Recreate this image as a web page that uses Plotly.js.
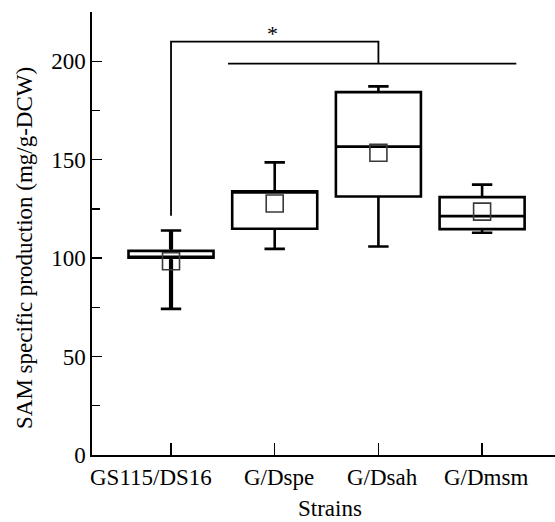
<!DOCTYPE html>
<html><head><meta charset="utf-8">
<script src="https://cdn.plot.ly/plotly-3.0.1.min.js"></script>
<style>html,body{margin:0;padding:0;background:#fff}#c{width:555px;height:522px}</style>
</head><body><div id="c"></div>
<script>
const categories = ["GS115/DS16", "G/Dspe", "G/Dsah", "G/Dmsm"];
const positions = [0, 1, 2, 3];
const lowerWhisker = [74.2, 104.7, 105.9, 112.9];
const q1 = [100.2, 114.9, 131.3, 114.7];
const medians = [100.2, 133.3, 156.6, 121.3];
const q3 = [103.7, 133.9, 184.3, 131.0];
const upperWhisker = [114.0, 148.6, 187.2, 137.3];
const means = [98.4, 127.7, 153.5, 123.6];
const bracketX = [0, 0, 2, 2];
const bracketY = [121.5, 210, 210, 198.8];
const groupLineX = [0.55, 3.33];
const groupLineY = [198.8, 198.8];
const yTicks = [0, 50, 100, 150, 200];
const xTitle = "Strains";
const yTitle = "SAM specific production (mg/g-DCW)";
const sigMark = "*";

const font = "Liberation Serif, Times New Roman, serif";
const FS = 23;
const traces = [
  {type: "box", x: positions, q1: q1, median: medians, q3: q3,
   lowerfence: lowerWhisker, upperfence: upperWhisker,
   width: 0.82, whiskerwidth: 0.24, fillcolor: "rgba(0,0,0,0)",
   line: {color: "#000", width: 2.6}, boxpoints: false, hoverinfo: "skip"},
  // heavier whisker stems of the first strain
  {type: "scatter", mode: "lines",
   x: [positions[0], positions[0], null, positions[0], positions[0]],
   y: [lowerWhisker[0], q1[0] - 0.8, null, q3[0] + 0.8, upperWhisker[0]],
   line: {color: "#000", width: 4.2}, hoverinfo: "skip"},
  {type: "scatter", mode: "markers", x: positions, y: means,
   marker: {symbol: "square-open", size: 17, color: "#3a3a3a", line: {width: 1.6, color: "#3a3a3a"}},
   hoverinfo: "skip"},
  {type: "scatter", mode: "lines", x: bracketX, y: bracketY,
   line: {color: "#000", width: 1.8}, hoverinfo: "skip"},
  {type: "scatter", mode: "lines", x: groupLineX, y: groupLineY,
   line: {color: "#000", width: 1.8}, hoverinfo: "skip"}
];
const L = 92, T = 12, W = 555 - 92, H = 455 - 12;
const annotations = categories.map((c, i) => ({
  x: positions[i], y: 0, xref: "x", yref: "y", text: c, showarrow: false,
  xanchor: "center", yanchor: "middle", yshift: -22, xshift: i === 0 ? -20 : 4,
  font: {family: font, size: FS, color: "#000"}
}));
annotations.push(
  {x: (330 - L) / W, y: (455 - 508) / H, xref: "paper", yref: "paper", text: xTitle, showarrow: false,
   font: {family: font, size: FS, color: "#000"}, xanchor: "center", yanchor: "middle"},
  {x: 0.98, y: 214, xref: "x", yref: "y", text: sigMark, showarrow: false,
   font: {family: font, size: 22, color: "#000"}, yanchor: "middle"},
  {x: (24 - L) / W, y: (455 - 248) / H, xref: "paper", yref: "paper",
   text: yTitle, textangle: -90, showarrow: false, xanchor: "center", yanchor: "middle",
   font: {family: font, size: FS, color: "#000"}}
);

const layout = {
  width: 555, height: 522,
  margin: {l: L, r: 0, t: T, b: 522 - 455},
  paper_bgcolor: "#fff", plot_bgcolor: "#fff",
  showlegend: false,
  font: {family: font, size: FS, color: "#000"},
  xaxis: {
    range: [-0.762, 3.703], tickvals: positions, showticklabels: false,
    ticks: "inside", ticklen: 12, tickwidth: 1.3, tickcolor: "#000",
    showline: true, linecolor: "#000", linewidth: 1.6,
    showgrid: false, zeroline: false
  },
  yaxis: {
    range: [0, 225], tickvals: yTicks,
    ticks: "inside", ticklen: 10, tickwidth: 1.3, tickcolor: "#000",
    minor: {dtick: 25, tick0: 0, ticks: "inside", ticklen: 8, tickwidth: 1.3, tickcolor: "#000"},
    showline: true, linecolor: "#000", linewidth: 1.6,
    showgrid: false, zeroline: false,
    tickfont: {family: font, size: FS, color: "#000"}
  },
  annotations: annotations
};
Plotly.newPlot("c", traces, layout, {staticPlot: true, displayModeBar: false});
</script></body></html>
